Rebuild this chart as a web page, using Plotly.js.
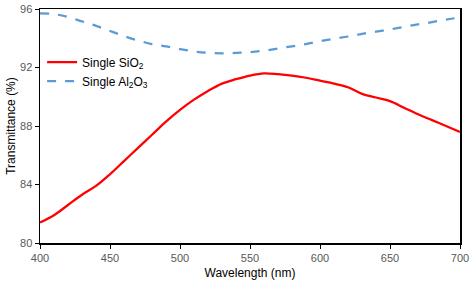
<!DOCTYPE html>
<html>
<head>
<meta charset="utf-8">
<script src="https://cdn.plot.ly/plotly-3.0.1.min.js"></script>
<style>html,body{margin:0;padding:0;background:#fff;}#chart{width:473px;height:283px;}</style>
</head>
<body>
<div id="chart"></div>
<script>
const wavelength = [400,410,420,430,440,450,460,470,480,490,500,510,520,530,540,550,560,570,580,590,600,610,620,630,640,650,660,670,680,690,700];
const sio2 = [81.4,81.9,82.6,83.3,83.9,84.7,85.6,86.5,87.4,88.3,89.1,89.8,90.4,90.9,91.2,91.45,91.6,91.55,91.45,91.3,91.1,90.9,90.65,90.2,89.95,89.7,89.25,88.8,88.4,88.0,87.6];
const al2o3 = [95.7,95.65,95.45,95.15,94.85,94.5,94.15,93.85,93.6,93.45,93.26,93.1,93.0,92.97,93.0,93.05,93.15,93.3,93.45,93.6,93.8,93.97,94.12,94.3,94.45,94.6,94.78,94.95,95.1,95.28,95.42];
const seriesNames = ["Single SiO<sub>2</sub>", "Single Al<sub>2</sub>O<sub>3</sub>"];
const xTicks = [400,450,500,550,600,650,700];
const yTicks = [80,84,88,92,96];

const traces = [
  {x: wavelength, y: sio2, name: seriesNames[0], mode: 'lines', line: {color: '#FF0000', width: 2.25, shape: 'spline'}},
  {x: wavelength, y: al2o3, name: seriesNames[1], mode: 'lines', line: {color: '#5B9BD5', width: 2.25, dash: 'dash', shape: 'spline'}}
];

const layout = {
  width: 473, height: 283,
  margin: {l: 40, r: 13, t: 9, b: 40},
  paper_bgcolor: '#fff', plot_bgcolor: '#fff',
  font: {family: 'Liberation Sans, Arial, sans-serif', size: 11, color: '#595959'},
  showlegend: true,
  legend: {x: 0.005, y: 0.835, xanchor: 'left', yanchor: 'top', bgcolor: 'rgba(0,0,0,0)',
           font: {size: 12, color: '#000'}, tracegroupgap: 4},
  xaxis: {range: [400, 700], tickvals: xTicks, ticks: 'outside', ticklen: 4, tickcolor: '#000',
          showline: true, linecolor: '#000', linewidth: 1.5, mirror: true, showgrid: false, zeroline: false,
          tickfont: {size: 11, color: '#595959'},
          title: {text: 'Wavelength (nm)', font: {size: 12, color: '#000'}, standoff: 6}},
  yaxis: {range: [80, 96], tickvals: yTicks, ticks: 'outside', ticklen: 4, tickcolor: '#000',
          showline: true, linecolor: '#000', linewidth: 1.5, mirror: true, showgrid: false, zeroline: false,
          tickfont: {size: 11, color: '#595959'},
          title: {text: 'Transmittance (%)', font: {size: 12, color: '#000'}, standoff: 2}}
};

Plotly.newPlot('chart', traces, layout, {displayModeBar: false, staticPlot: true});
</script>
</body>
</html>
